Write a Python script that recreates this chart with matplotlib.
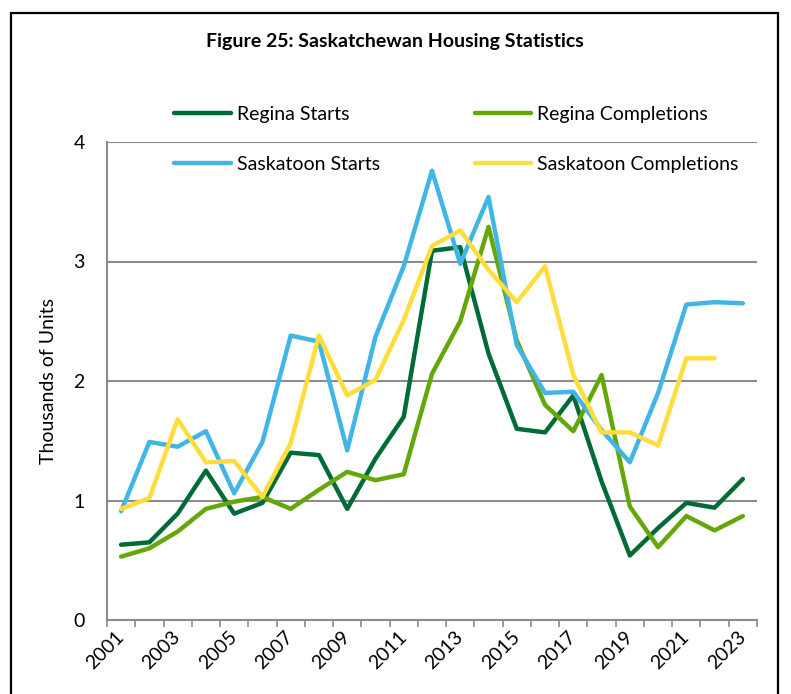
import numpy as np
import matplotlib
matplotlib.use("Agg")
import matplotlib.pyplot as plt
import matplotlib.transforms as mtransforms
from matplotlib.patches import Rectangle

plt.rcParams['font.family'] = ['Lato', 'DejaVu Sans']

years = list(range(2001, 2024))
regina_starts = [0.63, 0.65, 0.89, 1.25, 0.89, 0.98, 1.40, 1.38, 0.93, 1.35, 1.70, 3.09,
                 3.12, 2.23, 1.60, 1.57, 1.88, 1.16, 0.54, 0.77, 0.98, 0.94, 1.18]
regina_compl = [0.53, 0.60, 0.74, 0.93, 0.99, 1.03, 0.93, 1.09, 1.24, 1.17, 1.22, 2.06,
                2.50, 3.29, 2.34, 1.80, 1.58, 2.05, 0.95, 0.61, 0.87, 0.75, 0.87]
sask_starts = [0.91, 1.49, 1.45, 1.58, 1.06, 1.49, 2.38, 2.33, 1.42, 2.37, 2.96, 3.76,
               2.98, 3.54, 2.30, 1.90, 1.91, 1.59, 1.32, 1.90, 2.64, 2.66, 2.65]
sask_compl = [0.93, 1.02, 1.68, 1.32, 1.33, 1.03, 1.48, 2.38, 1.88, 2.01, 2.51, 3.13,
              3.26, 2.93, 2.66, 2.96, 2.05, 1.57, 1.57, 1.46, 2.19, 2.19, np.nan]

fig = plt.figure(figsize=(7.91, 6.94), dpi=100)
ax = fig.add_axes([107/791, 1-620/694, 650/791, 478/694])

x = np.arange(len(years))
grid_c = '#8c8c8c'
l1, = ax.plot(x, regina_starts, color='#006B36', lw=3.2, solid_capstyle='round', zorder=3)
l2, = ax.plot(x, regina_compl, color='#64A70B', lw=3.2, solid_capstyle='round', zorder=3)
l3, = ax.plot(x, sask_starts, color='#41B6E6', lw=3.2, solid_capstyle='round', zorder=3)
l4, = ax.plot(x, sask_compl, color='#FFDD3C', lw=3.2, solid_capstyle='round', zorder=3)

ax.set_xlim(-0.5, len(years) - 0.5)
ax.set_ylim(0, 4)
ax.set_yticks([0, 1, 2, 3, 4])
ax.yaxis.grid(True, color=grid_c, lw=1.5)
ax.set_axisbelow(True)
ax.tick_params(axis='y', length=0, pad=16, labelsize=14)

ax.set_xticks(x[::2])
ax.set_xticklabels([str(y) for y in years[::2]], rotation=45, ha='right',
                   va='center', rotation_mode='anchor', fontsize=14)
shift = mtransforms.ScaledTranslation(6/100, -2/100, fig.dpi_scale_trans)
for lab in ax.get_xticklabels():
    lab.set_transform(lab.get_transform() + shift)
ax.set_xticks(np.arange(-0.5, len(years)), minor=True)
ax.tick_params(axis='x', which='major', length=0, pad=10)
ax.tick_params(axis='x', which='minor', length=5, color=grid_c, width=1.2)

for s in ['top', 'right']:
    ax.spines[s].set_visible(False)
for s in ['left', 'bottom']:
    ax.spines[s].set_color(grid_c)
    ax.spines[s].set_linewidth(1.5)

ax.set_ylabel('Thousands of Units', fontsize=14, labelpad=12)

fig.text(0.499, 1-42/694, 'Figure 25: Saskatchewan Housing Statistics',
         ha='center', va='center', fontsize=14, fontweight='bold')

fig.legend([l1, l3, l2, l4],
           ['Regina Starts', 'Saskatoon Starts', 'Regina Completions', 'Saskatoon Completions'],
           ncol=2, loc='center', bbox_to_anchor=(0.577, 0.799), frameon=False,
           fontsize=14, handlelength=2.9, handletextpad=0.3, columnspacing=4.9,
           labelspacing=1.7)

fig.patches.append(Rectangle((11/791, -0.02), 767/791, 0.02 + 1-12.5/694,
                             transform=fig.transFigure, fill=False,
                             edgecolor='black', lw=1.6))

fig.savefig('out.png', dpi=100)
